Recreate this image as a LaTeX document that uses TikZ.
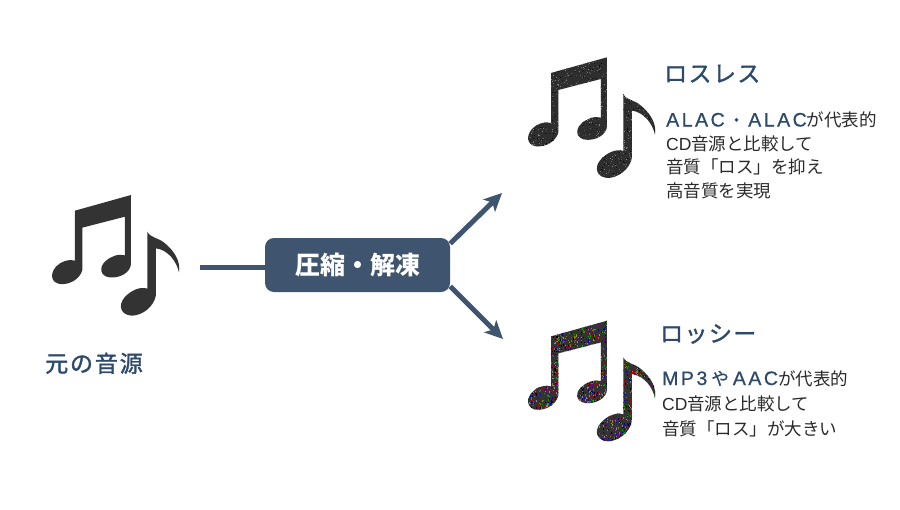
\documentclass[tikz,border=0pt]{standalone}
\usepackage{fontspec}
\usetikzlibrary{arrows.meta}
\setmainfont{Noto Sans CJK JP}
\newfontfamily\headfont[LetterSpace=8,FakeBold=1.6]{Noto Sans CJK JP}
\newfontfamily\titlefont[LetterSpace=6,FakeBold=1.4]{Noto Sans CJK JP}
\newfontfamily\latinfont[LetterSpace=13,FakeBold=0.8]{Liberation Sans}
\newfontfamily\plainlatin{Liberation Sans}
\newfontfamily\spacedfont[FakeBold=0.6]{Noto Sans CJK JP}
\definecolor{slate}{HTML}{3F556F}
\definecolor{navy}{HTML}{2E4A6B}
\definecolor{ink}{HTML}{333333}
\definecolor{bodyink}{HTML}{2A2A2A}
\newcommand{\noteshape}{%
  (135,92) -- (303,45) -- (303,250) .. controls (303,278) and (268,296) .. (238,292)
  .. controls (210,288) and (207,262) .. (225,245) .. controls (240,230) and (265,220) .. (285,226)
  -- (285,110) -- (157,143) -- (157,270)
  .. controls (150,298) and (118,315) .. (90,312) .. controls (62,308) and (60,280) .. (78,260)
  .. controls (92,244) and (118,236) .. (135,242) -- cycle
  (352,155) .. controls (362,175) and (385,172) .. (405,190) .. controls (435,215) and (452,245) .. (447,277)
  .. controls (440,245) and (415,210) .. (378,205) -- (378,345)
  .. controls (372,382) and (335,407) .. (305,407) .. controls (273,405) and (263,378) .. (283,353)
  .. controls (300,333) and (330,318) .. (352,326) -- cycle
}
\tikzset{
  note scale/.style={x=0.3333pt,y=-0.3333pt},
  flow/.style={draw=slate,line width=5pt},
  arrowflow/.style={flow,-{Stealth[length=18pt,width=17pt,inset=4.5pt]}},
  procbox/.style={fill=slate,rounded corners=9pt,minimum width=185pt,minimum height=54pt,inner sep=0pt,
    text=white,font=\fontsize{25}{25}\selectfont\bfseries},
  headline/.style={anchor=base west,inner sep=0pt,text=navy,font=\fontsize{23}{23}\titlefont},
  blurb/.style={anchor=north west,inner sep=0pt,align=left,text=bodyink}
}
\begin{document}
\begin{tikzpicture}[x=1pt,y=-1pt]
\useasboundingbox (0,0) rectangle (900,509);
\fill[white] (0,0) rectangle (900,509);

% original note: solid
\begin{scope}[shift={(30,180)},note scale]
  \fill[ink] \noteshape;
\end{scope}

% lossless note: fine grey noise
\begin{scope}[shift={(506,42.3)},note scale]
  \fill[black!82] \noteshape;
  \clip \noteshape;
  \pgfmathsetseed{4242}
  \foreach \i in {1,...,2400}{
    \pgfmathsetmacro{\px}{random(20,460)}
    \pgfmathsetmacro{\py}{random(40,410)}
    \pgfmathsetmacro{\sh}{random(45,100)}
    \fill[black!\sh!white] (\px,\py) rectangle ++(3,3);
  }
\end{scope}

% lossy note: coloured noise
\begin{scope}[shift={(506,305.7)},note scale]
  \fill[black!80] \noteshape;
  \clip \noteshape;
  \pgfmathsetseed{777}
  \foreach \i in {1,...,3600}{
    \pgfmathsetmacro{\px}{random(20,460)}
    \pgfmathsetmacro{\py}{random(40,410)}
    \pgfmathtruncatemacro{\hue}{random(0,6)}
    \ifcase\hue \def\nc{red!70!black}\or \def\nc{green!65!black}\or \def\nc{blue!75!black}\or
      \def\nc{violet!80!black}\or \def\nc{olive!90!black}\or \def\nc{gray!90}\or \def\nc{black}\fi
    \fill[\nc] (\px,\py) rectangle ++(3.5,3.5);
  }
\end{scope}

% nodes
\node[procbox] (proc) at (357.5,265) {圧縮・解凍};
\node[anchor=base west,inner sep=0pt,text=navy,font=\fontsize{23}{23}\headfont] (src label) at (45,372) {元の音源};

\node[headline] (lossless title) at (664,82) {ロスレス};
\node[blurb,font=\fontsize{17.5}{23.5}\selectfont] (lossless text) at (666,111.5)
  {\textcolor{navy}{\fontsize{19.5}{23.5}\latinfont ALAC\hspace{3pt}\fontsize{17.5}{23.5}\spacedfont ・\hspace{3pt}\fontsize{19.5}{23.5}\latinfont ALAC}が代表的\\{\plainlatin CD}音源と比較して\\音質「ロス」を抑え\\高音質を実現};

\node[headline] (lossy title) at (660,342) {ロッシー};
\node[blurb,font=\fontsize{17.5}{25}\selectfont] (lossy text) at (662,370)
  {\textcolor{navy}{\fontsize{19.5}{25}\latinfont MP3\hspace{4pt}\fontsize{17.5}{25}\spacedfont や\hspace{4pt}\fontsize{19.5}{25}\latinfont AAC}が代表的\\{\plainlatin CD}音源と比較して\\音質「ロス」が大きい};

% connectors
\coordinate (src) at (200,267);
\coordinate (up) at (502,193);
\coordinate (down) at (503,339);
\draw[flow] (src) -- (src -| proc.west);
\draw[arrowflow] (proc.13) -- (up);
\draw[arrowflow] (proc.-13) -- (down);
\end{tikzpicture}
\end{document}
